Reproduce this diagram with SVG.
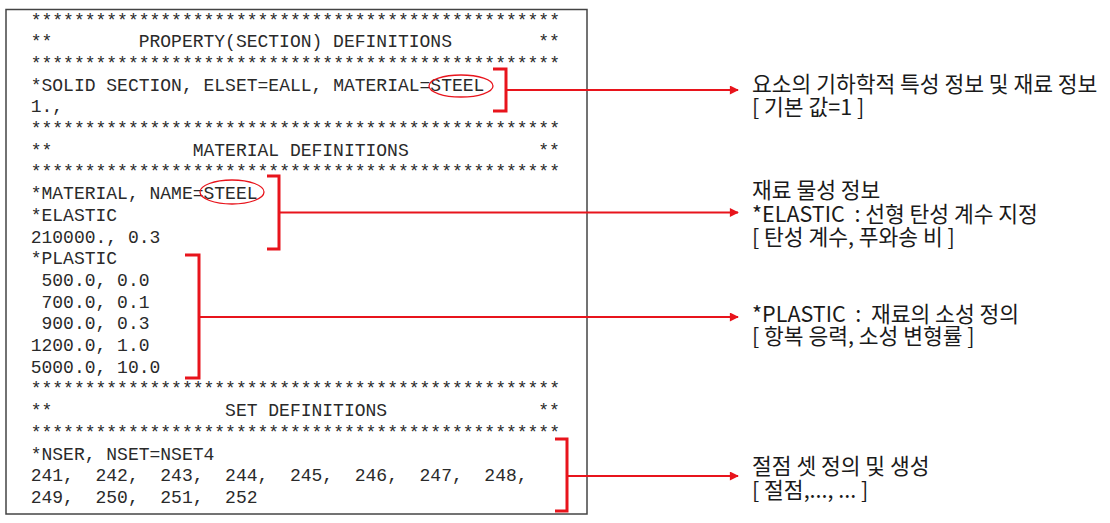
<svg xmlns="http://www.w3.org/2000/svg" width="1110" height="523" viewBox="0 0 1110 523">
<defs>
<style>
.code{font-family:"Liberation Mono","Courier New",monospace;font-size:18px;fill:#2a2a2a}
.note{font-family:"Noto Sans CJK KR","Noto Sans",sans-serif;font-size:21.5px;fill:#1a1a1a}
.br{fill:none;stroke:#e8141c;stroke-width:3}
.conn{fill:none;stroke:#e8141c;stroke-width:2}
.ell{fill:none;stroke:#e8141c;stroke-width:1.3}
</style>
<marker id="arr" viewBox="0 0 10 10" refX="9" refY="5" markerWidth="5.5" markerHeight="4.5" markerUnits="strokeWidth" orient="auto">
<path d="M0,0 L10,5 L0,10 z" fill="#e8141c"/>
</marker>
</defs>
<rect x="0" y="0" width="1110" height="523" fill="#ffffff"/>
<g id="code-box">
<rect x="6" y="9.5" width="581" height="504.5" fill="#ffffff" stroke="#444" stroke-width="1.5"/>
<g class="code">
<text x="30.7" y="25.5">*************************************************</text>
<text x="30.7" y="47.2">**</text><text x="138.7" y="47.2">PROPERTY(SECTION) DEFINITIONS</text><text x="538.3" y="47.2">**</text>
<text x="30.7" y="68.9">*************************************************</text>
<text x="30.7" y="90.6">*SOLID SECTION, ELSET=EALL, MATERIAL=STEEL</text>
<text x="30.7" y="112.3">1.,</text>
<text x="30.7" y="134">*************************************************</text>
<text x="30.7" y="155.7">**</text><text x="192.7" y="155.7">MATERIAL DEFINITIONS</text><text x="538.3" y="155.7">**</text>
<text x="30.7" y="177.4">*************************************************</text>
<text x="30.7" y="199.1">*MATERIAL, NAME=STEEL</text>
<text x="30.7" y="220.8">*ELASTIC</text>
<text x="30.7" y="242.5">210000., 0.3</text>
<text x="30.7" y="264.2">*PLASTIC</text>
<text x="30.7" y="285.9">&#160;500.0, 0.0</text>
<text x="30.7" y="307.6">&#160;700.0, 0.1</text>
<text x="30.7" y="329.3">&#160;900.0, 0.3</text>
<text x="30.7" y="351">1200.0, 1.0</text>
<text x="30.7" y="372.7">5000.0, 10.0</text>
<text x="30.7" y="394.4">*************************************************</text>
<text x="30.7" y="416.1">**</text><text x="225.1" y="416.1">SET DEFINITIONS</text><text x="538.3" y="416.1">**</text>
<text x="30.7" y="437.8">*************************************************</text>
<text x="30.7" y="459.5">*NSER, NSET=NSET4</text>
<text x="30.7" y="481.2">241,&#160; 242,&#160; 243,&#160; 244,&#160; 245,&#160; 246,&#160; 247,&#160; 248,</text>
<text x="30.7" y="502.9">249,&#160; 250,&#160; 251,&#160; 252</text>
</g>
<ellipse class="ell" cx="461" cy="86" rx="32" ry="11"/>
<ellipse class="ell" cx="232" cy="192" rx="32" ry="12"/>
</g>
<g id="bracket-section">
<path class="br" d="M493,69 H506 V111 H493"/>
</g>
<g id="bracket-material">
<path class="br" d="M267,176 H279 V249 H267"/>
</g>
<g id="bracket-plastic">
<path class="br" d="M185,255 H199 V378 H185"/>
</g>
<g id="bracket-set">
<path class="br" d="M555,439 H567 V511 H555"/>
</g>
<g id="connectors">
<line class="conn" x1="506" y1="90" x2="738" y2="90" marker-end="url(#arr)"/>
<line class="conn" x1="279" y1="212.5" x2="738" y2="212.5" marker-end="url(#arr)"/>
<line class="conn" x1="199" y1="317" x2="738" y2="317" marker-end="url(#arr)"/>
<line class="conn" x1="567" y1="476" x2="738" y2="476" marker-end="url(#arr)"/>
</g>
<g id="note-section" class="note">
<text x="752" y="92">요소의 기하학적 특성 정보 및 재료 정보</text>
<text x="752" y="115">[ 기본 값=1 ]</text>
</g>
<g id="note-material" class="note">
<text x="752" y="198">재료 물성 정보</text>
<text x="752" y="222">*ELASTIC&#160; : 선형 탄성 계수 지정</text>
<text x="752" y="245">[ 탄성 계수, 푸와송 비 ]</text>
</g>
<g id="note-plastic" class="note">
<text x="752" y="322">*PLASTIC&#160; :&#160; 재료의 소성 정의</text>
<text x="752" y="344">[ 항복 응력, 소성 변형률 ]</text>
</g>
<g id="note-set" class="note">
<text x="752" y="474">절점 셋 정의 및 생성</text>
<text x="752" y="498">[ 절점,..., ... ]</text>
</g>
</svg>
